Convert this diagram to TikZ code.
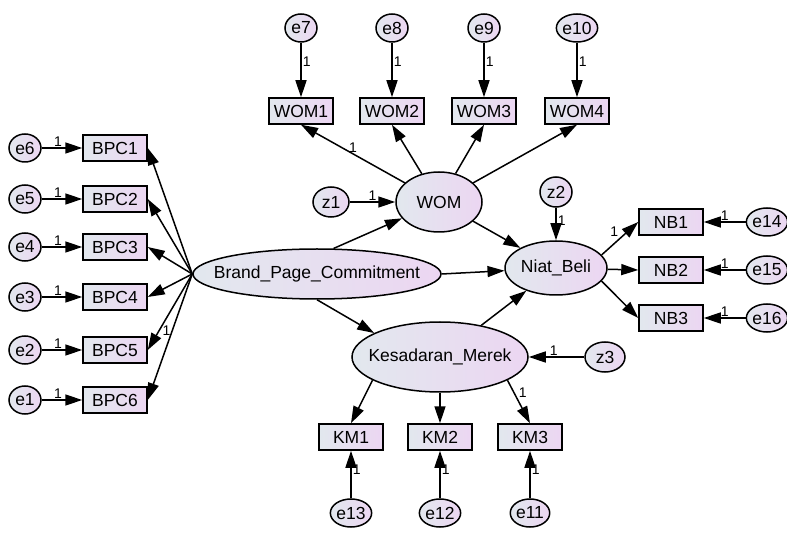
\documentclass[tikz,border=0pt]{standalone}
\usepackage{fontspec}
\setmainfont{Liberation Sans}
\usetikzlibrary{shapes.geometric,arrows.meta}

\definecolor{fillL}{RGB}{226,232,238}
\definecolor{fillR}{RGB}{236,214,242}

\begin{document}
\begin{tikzpicture}[x=1pt,y=-1pt,
    every node/.style={font=\fontsize{17.5}{19}\selectfont},
    obs/.style={draw,line width=1.5pt,rectangle,minimum width=64pt,minimum height=26pt,inner sep=0pt,left color=fillL,right color=fillR},
    lat/.style={draw,line width=1.5pt,ellipse,inner sep=0pt,left color=fillL,right color=fillR},
    err/.style={lat,minimum width=32pt,minimum height=28pt},
    dist/.style={lat,minimum width=36pt,minimum height=30pt},
    arr/.style={line width=1.5pt,-{Triangle[length=17pt,width=11pt]}},
    one/.style={font=\fontsize{14}{15}\selectfont,inner sep=1pt}]
    \useasboundingbox (0,0) rectangle (787,534);

    \node[lat,minimum width=248pt,minimum height=50pt] (bpc) at (317,274) {\makebox[0pt]{Brand\_Page\_Commitment}};
    \node[lat,minimum width=86pt,minimum height=60pt] (wom) at (439,202) {WOM};
    \node[lat,minimum width=102pt,minimum height=54pt] (nb) at (556,268) {Niat\_Beli};
    \node[lat,minimum width=176pt,minimum height=70pt] (km) at (440,357) {\makebox[0pt]{Kesadaran\_Merek}};

    \foreach \i/\e/\y in {1/6/148,2/5/199,3/4/247,4/3/297,5/2/350,6/1/400} {
        \node[obs] (bpc\i) at (115,\y) {BPC\i};
        \node[err] (e\e) at (25,\y) {e\e};
        \draw[arr] (e\e) -- node[one,pos=0.4,above]{1} (bpc\i);
    }
    \foreach \i/\e/\x in {1/7/301,2/8/392,3/9/484,4/10/577} {
        \node[obs] (wom\i) at (\x,111) {WOM\i};
        \node[err] (e\e) at (\x,28) {e\e};
        \draw[arr] (e\e) -- node[one,pos=0.35,right]{1} (wom\i);
    }
    \foreach \i/\e/\y in {1/14/222,2/15/270,3/16/318} {
        \node[obs] (nb\i) at (671,\y) {NB\i};
        \node[err] (e\e) at (767,\y) {e\e};
        \draw[arr] (e\e) -- node[one,above]{1} (nb\i);
    }
    \foreach \i/\e/\x in {1/13/351,2/12/440,3/11/530} {
        \node[obs] (km\i) at (\x,437) {KM\i};
        \node[err] (e\e) at (\x,513) {e\e};
        \draw[arr] (e\e) -- node[one,pos=0.6,right]{1} (km\i);
    }

    \node[dist] (z1) at (331,202) {z1};
    \node[dist,minimum width=32pt] (z2) at (556,192) {z2};
    \node[dist,minimum width=40pt] (z3) at (605,357) {z3};

    \foreach \i in {1,2,3,4,6}
        \draw[arr] (bpc.west) -- (bpc\i.east);
    \draw[arr] (bpc.west) -- node[one,pos=0.75,right=2pt]{1} (bpc5.east);

    \draw[arr] (wom) -- node[one,midway,above]{1} (wom1.south);
    \draw[arr] (wom) -- (wom2.south);
    \draw[arr] (wom) -- (wom3.south);
    \draw[arr] (wom) -- (wom4.south);

    \draw[arr] (nb.16) -- node[one,pos=0.5,above left]{1} (nb1.west);
    \draw[arr] (nb) -- (nb2.west);
    \draw[arr] (nb.-16) -- (nb3.west);

    \draw[arr] (km.199) -- (km1.north);
    \draw[arr] (km) -- (km2.north);
    \draw[arr] (km.-19) -- node[one,pos=0.3,right=3pt]{1} (km3.north);

    \draw[arr] (z1) -- node[one,above]{1} (wom);
    \draw[arr] (z2) -- node[one,pos=0.4,right]{1} (nb);
    \draw[arr] (z3) -- node[one,pos=0.55,above]{1} (km);

    \draw[arr] (bpc.57) -- (wom);
    \draw[arr] (bpc.east) -- (nb);
    \draw[arr] (bpc.south) -- (km.160);
    \draw[arr] (wom) -- (nb);
    \draw[arr] (km) -- (nb);
\end{tikzpicture}
\end{document}
